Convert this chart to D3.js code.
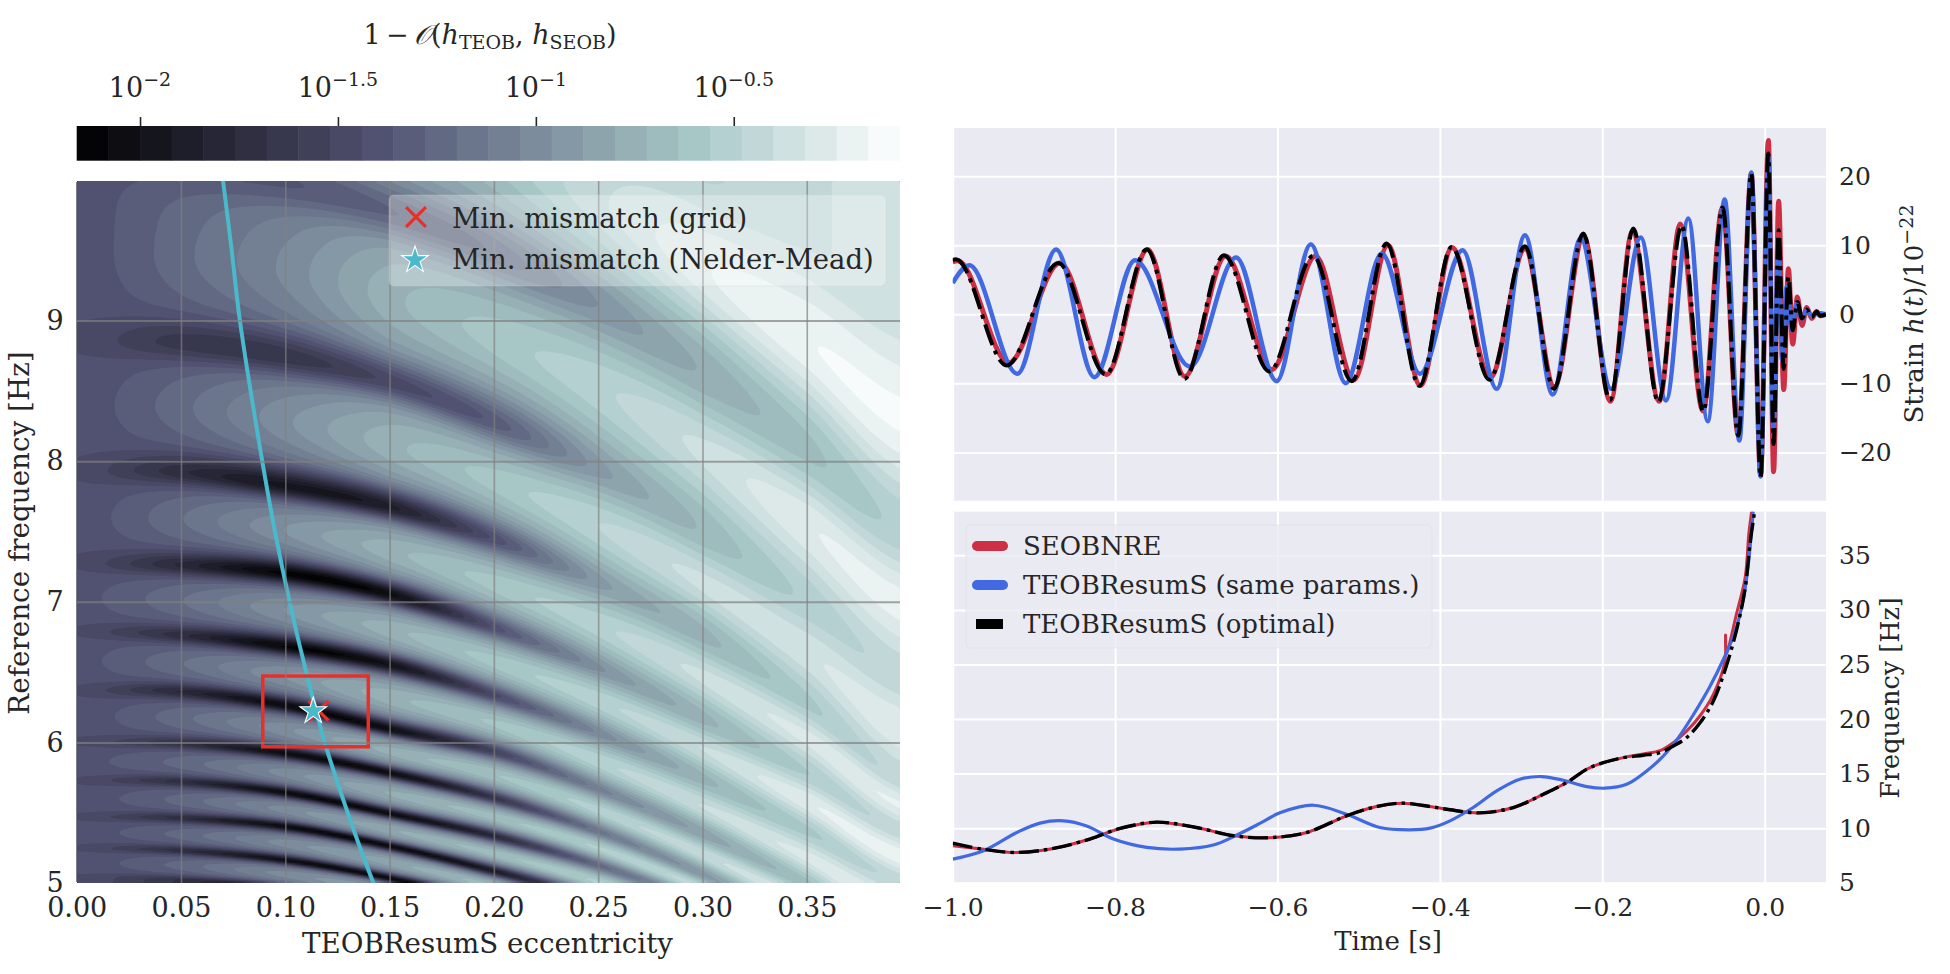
<!DOCTYPE html>
<html>
<head>
<meta charset="utf-8">
<title>Eccentric waveform mismatch</title>
<script src="https://d3js.org/d3.v7.min.js"></script>
<style>
  html, body { margin: 0; padding: 0; background: #fff; }
  svg { display: block; }
  text { font-family: "DejaVu Serif", serif; fill: #262626; }
  .tick text { fill: #262626; }
  .domain { display: none; }
</style>
</head>
<body>
<svg id="drawing_region" width="1950" height="974"></svg>
<script>
// ---- left panel: mismatch surface ----
const eccColumns = [0, 0.0503, 0.1006, 0.1509, 0.2012, 0.2515, 0.3017, 0.352, 0.3973];

// reference frequency of each dark valley at eccColumns, bottom one first
const valleyFreq = [
    [5.04, 5.02, 4.96, 4.85, 4.66, 4.45, 4.20, 3.90, 3.60],
    [5.25, 5.23, 5.16, 5.03, 4.86, 4.65, 4.40, 4.10, 3.80],
    [5.47, 5.46, 5.40, 5.26, 5.08, 4.88, 4.62, 4.30, 4.00],
    [5.73, 5.72, 5.64, 5.49, 5.33, 5.12, 4.85, 4.52, 4.20],
    [6.00, 5.99, 5.92, 5.78, 5.60, 5.36, 5.05, 4.70, 4.35],
    [6.37, 6.36, 6.26, 6.09, 5.93, 5.66, 5.34, 4.98, 4.62],
    [6.79, 6.76, 6.68, 6.55, 6.33, 6.06, 5.73, 5.36, 5.00],
    [7.27, 7.26, 7.20, 7.05, 6.81, 6.52, 6.16, 5.77, 5.36],
    [7.93, 7.92, 7.82, 7.67, 7.44, 7.13, 6.75, 6.26, 5.72],
    [8.86, 8.84, 8.74, 8.56, 8.27, 7.93, 7.49, 6.98, 6.45],
    [10.12, 10.08, 9.98, 9.77, 9.48, 9.10, 8.62, 8.07, 7.50],
    [11.60, 11.60, 11.50, 11.30, 11.00, 10.60, 10.10, 9.60, 9.10]
];

// position on the colour bar (0 = left end, 1 = right end) along each valley
const valleyLevel = [
    [0.34, 0.22, 0.08, 0.06, 0.10, 0.30, 0.45, 0.60, 0.70],
    [0.34, 0.20, 0.05, 0.03, 0.10, 0.30, 0.45, 0.60, 0.70],
    [0.34, 0.20, 0.04, 0.03, 0.12, 0.36, 0.50, 0.60, 0.70],
    [0.34, 0.20, 0.04, 0.04, 0.18, 0.44, 0.56, 0.66, 0.75],
    [0.34, 0.22, 0.05, 0.05, 0.24, 0.48, 0.60, 0.70, 0.78],
    [0.34, 0.18, 0.04, 0.06, 0.30, 0.52, 0.63, 0.72, 0.80],
    [0.34, 0.20, 0.03, 0.08, 0.33, 0.55, 0.68, 0.76, 0.82],
    [0.34, 0.18, 0.02, 0.06, 0.36, 0.57, 0.68, 0.77, 0.82],
    [0.34, 0.20, 0.10, 0.14, 0.36, 0.60, 0.68, 0.76, 0.82],
    [0.34, 0.25, 0.24, 0.32, 0.40, 0.60, 0.70, 0.78, 0.82],
    [0.37, 0.38, 0.38, 0.42, 0.47, 0.58, 0.66, 0.72, 0.78],
    [0.60, 0.60, 0.60, 0.66, 0.72, 0.76, 0.80, 0.84, 0.86]
];

// same, along the light ridge above each valley (last valley has none)
const ridgeLevel = [
    [0.36, 0.44, 0.56, 0.62, 0.70, 0.76, 0.78, 0.82, 0.85],
    [0.36, 0.44, 0.56, 0.64, 0.72, 0.78, 0.82, 0.87, 0.90],
    [0.36, 0.44, 0.56, 0.65, 0.72, 0.78, 0.82, 0.87, 0.90],
    [0.37, 0.44, 0.56, 0.66, 0.72, 0.78, 0.83, 0.88, 0.90],
    [0.36, 0.45, 0.57, 0.67, 0.73, 0.79, 0.84, 0.89, 0.92],
    [0.37, 0.46, 0.58, 0.68, 0.74, 0.80, 0.85, 0.90, 0.93],
    [0.37, 0.46, 0.58, 0.68, 0.75, 0.80, 0.85, 0.92, 0.95],
    [0.36, 0.46, 0.58, 0.68, 0.75, 0.80, 0.86, 0.90, 0.93],
    [0.36, 0.45, 0.57, 0.68, 0.75, 0.81, 0.86, 0.88, 0.92],
    [0.36, 0.45, 0.55, 0.68, 0.75, 0.80, 0.86, 0.92, 0.94],
    [0.40, 0.42, 0.58, 0.66, 0.75, 0.84, 0.92, 0.96, 0.97]
];

const curveEcc = [0.0701, 0.0741, 0.0782, 0.089, 0.0951, 0.1021, 0.11, 0.1189, 0.1276, 0.1349, 0.1425];
const curveFreq = [10, 9.526, 9.004, 7.997, 7.496, 6.998, 6.5, 6.0, 5.6, 5.29, 4.99];

const boxEcc = [0.0892, 0.1398];
const boxFreq = [5.969, 6.472];
const gridMin = [0.116, 6.225];
const neldMeadMin = [0.1134, 6.223];

const eccTicks = [0, 0.05, 0.1, 0.15, 0.2, 0.25, 0.3, 0.35];
const refFreqTicks = [5, 6, 7, 8, 9];
const barExponents = [-2, -1.5, -1, -0.5];
const barExponentLabels = ["\u22122", "\u22121.5", "\u22121", "\u22120.5"];
const bandCount = 26;

// ---- right panels ----
const strainRedT = [-1, -0.994, -0.931, -0.868, -0.8104, -0.76, -0.714, -0.664, -0.607, -0.553, -0.506, -0.464, -0.424, -0.385, -0.338, -0.2952, -0.259, -0.223, -0.19, -0.163, -0.13, -0.104, -0.076, -0.052, -0.0325, -0.0165, -0.005, 0.0045, 0.011, 0.0172, 0.0234, 0.0292, 0.0345, 0.0402, 0.046, 0.0517, 0.058, 0.064, 0.068, 0.0752];
const strainRedH = [7.6, 7.75, -7.0, 7.45, -8.7, 9.39, -9.0, 8.47, -8.0, 8.47, -9.5, 10.0, -10.3, 9.7, -9.2, 9.5, -10.5, 11.3, -12.6, 12.0, -12.6, 13.1, -14.0, 15.5, -17.5, 20.4, -23.4, 25.2, -22.8, 16.4, -10.9, 6.6, -4.3, 2.5, -1.6, 1.0, -0.6, 0.4, -0.2, 0];

const strainBlueT = [-1, -0.9795, -0.9204, -0.8727, -0.8255, -0.7755, -0.7077, -0.651, -0.601, -0.559, -0.516, -0.4717, -0.4245, -0.372, -0.33, -0.2952, -0.2611, -0.2267, -0.1892, -0.1527, -0.1215, -0.094, -0.0702, -0.0493, -0.0312, -0.0165, -0.005, 0.0045, 0.0107, 0.0164, 0.0217, 0.0271, 0.0332, 0.0394, 0.0456, 0.0517, 0.0587, 0.0648, 0.0752];
const strainBlueH = [4.55, 7.11, -8.6, 9.39, -9.1, 7.84, -7.55, 8.22, -9.68, 10.16, -9.97, 8.8, -8.6, 9.29, -10.79, 11.47, -11.61, 10.98, -10.79, 11.13, -12.48, 13.88, -15.48, 16.64, -18.29, 20.56, -23.5, 22.8, -16.8, 8.8, -6.7, 4.0, -2.3, 1.6, -0.6, 0.6, -0.3, 0.2, 0];

const strainBlackT = [-1, -0.996, -0.9335, -0.87, -0.8116, -0.761, -0.7147, -0.666, -0.61, -0.556, -0.5086, -0.4655, -0.4253, -0.3855, -0.3391, -0.2952, -0.2595, -0.2234, -0.1905, -0.1618, -0.131, -0.1023, -0.0756, -0.0518, -0.0325, -0.0165, -0.005, 0.0045, 0.011, 0.0172, 0.0234, 0.0292, 0.0345, 0.0402, 0.046, 0.0517, 0.058, 0.064, 0.068, 0.0752];
const strainBlackH = [7.9, 7.98, -7.4, 7.45, -8.7, 9.39, -9.34, 8.56, -8.27, 8.47, -9.68, 10.26, -10.35, 9.77, -9.48, 9.87, -10.79, 11.71, -12.39, 12.43, -12.72, 12.9, -14.08, 15.48, -17.56, 20.42, -23.6, 23.3, -18.8, 12.2, -7.9, 5.4, -2.3, 1.8, -0.6, 0.7, -0.4, 0.4, -0.2, 0];

const freqBlackT = [-1, -0.964, -0.923, -0.876, -0.831, -0.794, -0.749, -0.7, -0.654, -0.611, -0.564, -0.515, -0.478, -0.447, -0.412, -0.3875, -0.3505, -0.3095, -0.2725, -0.2438, -0.2192, -0.1987, -0.1741, -0.1494, -0.129, -0.1125, -0.096, -0.0796, -0.0632, -0.0488, -0.0345, -0.024, -0.018, -0.012];
const freqBlackF = [8.63, 8.08, 7.77, 8.14, 9.0, 9.97, 10.55, 10.06, 9.3, 9.12, 9.6, 11.13, 11.98, 12.29, 11.98, 11.68, 11.4, 11.89, 13.11, 14.18, 15.4, 16.0, 16.46, 16.68, 16.92, 17.53, 18.3, 19.66, 21.65, 24.5, 28.2, 32, 36.1, 39.2];

const freqRedT = [-1, -0.964, -0.923, -0.876, -0.831, -0.794, -0.749, -0.7, -0.654, -0.611, -0.564, -0.515, -0.478, -0.447, -0.412, -0.3875, -0.3505, -0.3095, -0.2725, -0.2438, -0.2192, -0.1987, -0.1741, -0.1494, -0.129, -0.1125, -0.096, -0.0796, -0.0632, -0.0492, -0.0482, -0.0476, -0.0345, -0.024, -0.0195, -0.0157];
const freqRedF = [8.38, 8.08, 7.77, 8.14, 9.0, 9.97, 10.55, 10.06, 9.3, 9.12, 9.6, 11.13, 11.98, 12.29, 11.98, 11.68, 11.4, 11.89, 13.11, 14.18, 15.4, 16.0, 16.46, 16.8, 17.1, 17.84, 18.9, 20.3, 22.26, 25.2, 27.7, 25.9, 29.7, 33, 37, 39.2];

const freqBlueT = [-1, -0.962, -0.921, -0.8925, -0.8637, -0.835, -0.802, -0.761, -0.72, -0.679, -0.652, -0.62, -0.597, -0.556, -0.515, -0.474, -0.437, -0.412, -0.3875, -0.359, -0.33, -0.3015, -0.275, -0.2481, -0.2192, -0.1967, -0.17, -0.1453, -0.125, -0.1063, -0.0878, -0.0673, -0.0488, -0.0365, -0.0263, -0.02, -0.014];
const freqBlueF = [7.16, 7.93, 9.6, 10.46, 10.67, 10.2, 9.0, 8.23, 8.08, 8.45, 9.3, 10.5, 11.4, 12.1, 11.28, 10.06, 9.85, 10.0, 10.67, 11.89, 13.41, 14.48, 14.73, 14.39, 13.81, 13.66, 14.02, 15.24, 16.6, 18.3, 20.4, 23, 25.8, 28, 31, 34.3, 39.2];

const timeTicks = [-1, -0.8, -0.6, -0.4, -0.2, 0];
const strainTicks = [-20, -10, 0, 10, 20];
const freqTicks = [5, 10, 15, 20, 25, 30, 35];

const legendLabels = ["SEOBNRE", "TEOBResumS (same params.)", "TEOBResumS (optimal)"];

const RED = "#cd2f45", BLUE = "#4169e1", CYAN = "#4ab9cc", BOX_RED = "#e8302a";

const svg = d3.select("#drawing_region");

// matplotlib "bone"
const bone = d3.scaleLinear()
    .domain([0, 0.365, 0.746, 1])
    .range(["#000000", "#515171", "#a6c6c6", "#ffffff"]);

const leftBox = { x0: 76.7, x1: 900, y0: 181, y1: 883 };

// ---- colour bar ----
const expScale = d3.scaleLinear().domain([-2.16, -0.08]).range([leftBox.x0, leftBox.x1]);
const bands = d3.range(bandCount);
const bandW = (leftBox.x1 - leftBox.x0) / bandCount;
const bar = svg.append("g");
bar.selectAll("rect")
    .data(bands)
    .enter()
    .append("rect")
    .attr("x", d => leftBox.x0 + d * bandW)
    .attr("width", d => d == bandCount - 1 ? bandW : bandW + 0.5)
    .attr("y", 126)
    .attr("height", 34.7)
    .attr("fill", d => bone((d + 0.5) / bandCount));

const barAxis = svg.append("g")
    .attr("transform", "translate(0,126)")
    .call(d3.axisTop(expScale).tickValues(barExponents).tickSize(9).tickFormat(""));
barAxis.selectAll("line").attr("stroke", "#262626").attr("stroke-width", 1.6);

barExponents.forEach((e, i) => {
    const t = svg.append("text")
        .attr("x", expScale(e))
        .attr("y", 97)
        .attr("text-anchor", "middle")
        .attr("font-size", 27);
    t.append("tspan").text("10");
    t.append("tspan").attr("dy", -11).attr("font-size", 19).text(barExponentLabels[i]);
});

const barTitle = svg.append("text")
    .attr("x", 490)
    .attr("y", 44)
    .attr("text-anchor", "middle")
    .attr("font-size", 27);
barTitle.append("tspan").text("1\u2009\u2212\u2009");
barTitle.append("tspan").attr("font-style", "italic").text("\u{1D4AA}");
barTitle.append("tspan").text("(");
barTitle.append("tspan").attr("font-style", "italic").text("h");
barTitle.append("tspan").attr("dy", 5).attr("font-size", 19).text("TEOB");
barTitle.append("tspan").attr("dy", -5).text(", ");
barTitle.append("tspan").attr("font-style", "italic").text("h");
barTitle.append("tspan").attr("dy", 5).attr("font-size", 19).text("SEOB");
barTitle.append("tspan").attr("dy", -5).text(")");

// ---- left panel ----
const eccScale = d3.scaleLinear().domain([0, 0.3947]).range([leftBox.x0, leftBox.x1]);
const refScale = d3.scaleLinear().domain([5, 9.993]).range([leftBox.y1, leftBox.y0]);

// Catmull-Rom through one table row, only to get a smooth surface between the read columns
function rowAt(row, e) {
    const n = eccColumns.length;
    let i = d3.bisectRight(eccColumns, e) - 1;
    i = Math.max(0, Math.min(n - 2, i));
    const s = (e - eccColumns[i]) / (eccColumns[i + 1] - eccColumns[i]);
    const p0 = row[Math.max(0, i - 1)], p1 = row[i], p2 = row[i + 1], p3 = row[Math.min(n - 1, i + 2)];
    return 0.5 * (2 * p1 + (p2 - p0) * s + (2 * p0 - 5 * p1 + 4 * p2 - p3) * s * s + (3 * p1 - p0 - 3 * p2 + p3) * s * s * s);
}

const gridW = 331, gridH = 281;
const surface = new Float64Array(gridW * gridH);
for (let i = 0; i < gridW; i++) {
    const e = (i + 0.5) / gridW * eccScale.domain()[1];
    const fs = valleyFreq.map(r => rowAt(r, e));
    const vs = valleyLevel.map(r => rowAt(r, e));
    const rs = ridgeLevel.map(r => rowAt(r, e));
    // valleys are narrow at low eccentricity and broad, soft stripes at high eccentricity
    const sharp = 0.7 * Math.max(0, Math.min(1, (0.3 - e) / 0.15));
    for (let j = 0; j < gridH; j++) {
        const f = 5 + (j + 0.5) / gridH * (refScale.domain()[1] - 5);
        let k = d3.bisectRight(fs, f) - 1;
        k = Math.max(0, Math.min(fs.length - 2, k));
        const u = (f - fs[k]) / (fs[k + 1] - fs[k]);
        const side = u < 0.5 ? 2 * u : 2 * (1 - u);
        const valley = u < 0.5 ? vs[k] : vs[k + 1];
        const c = Math.cos(Math.max(0, Math.min(1, side)) * Math.PI / 2);
        const dip = (1 - sharp) * c * c + sharp * Math.pow(c, 10);
        surface[i + j * gridW] = rs[k] + (valley - rs[k]) * dip;
    }
}

const thresholds = bands.map(d => d / bandCount);
const contours = d3.contours().size([gridW, gridH]).thresholds(thresholds)(surface);
const gridToPx = d3.geoTransform({
    point: function (x, y) {
        this.stream.point(
            eccScale(x / gridW * eccScale.domain()[1]),
            refScale(5 + y / gridH * (refScale.domain()[1] - 5))
        );
    }
});
svg.append("defs").append("clipPath").attr("id", "leftClip").append("rect")
    .attr("x", leftBox.x0).attr("y", leftBox.y0)
    .attr("width", leftBox.x1 - leftBox.x0).attr("height", leftBox.y1 - leftBox.y0);

const left = svg.append("g").attr("clip-path", "url(#leftClip)");
left.selectAll("path.band")
    .data(contours)
    .enter()
    .append("path")
    .attr("class", "band")
    .attr("d", d3.geoPath(gridToPx))
    .attr("fill", (d, i) => bone((i + 0.5) / bandCount));

// grid lies on top of the filled contours
const leftGridX = svg.append("g")
    .attr("transform", `translate(0,${leftBox.y1})`)
    .call(d3.axisBottom(eccScale).tickValues(eccTicks.slice(1)).tickSize(-(leftBox.y1 - leftBox.y0)).tickFormat(""));
leftGridX.selectAll("line").attr("stroke", "rgba(128,128,128,0.7)").attr("stroke-width", 1.6);
const leftGridY = svg.append("g")
    .attr("transform", `translate(${leftBox.x0},0)`)
    .call(d3.axisLeft(refScale).tickValues(refFreqTicks.slice(1)).tickSize(-(leftBox.x1 - leftBox.x0)).tickFormat(""));
leftGridY.selectAll("line").attr("stroke", "rgba(128,128,128,0.7)").attr("stroke-width", 2);

const leftXAxis = svg.append("g")
    .attr("transform", `translate(0,${leftBox.y1})`)
    .call(d3.axisBottom(eccScale).tickValues(eccTicks).tickSize(0).tickPadding(15).tickFormat(d3.format(".2f")));
leftXAxis.selectAll("text").attr("font-size", 27);
const leftYAxis = svg.append("g")
    .attr("transform", `translate(${leftBox.x0},0)`)
    .call(d3.axisLeft(refScale).tickValues(refFreqTicks).tickSize(0).tickPadding(13).tickFormat(d3.format("d")));
leftYAxis.selectAll("text").attr("font-size", 27);

svg.append("text")
    .attr("x", 487.5).attr("y", 953)
    .attr("text-anchor", "middle")
    .attr("font-size", 27.7)
    .text("TEOBResumS eccentricity");
svg.append("text")
    .attr("transform", "translate(29,533) rotate(-90)")
    .attr("text-anchor", "middle")
    .attr("font-size", 27.8)
    .text("Reference frequency [Hz]");

const freqLine = d3.line().x(d => eccScale(d[0])).y(d => refScale(d[1])).curve(d3.curveCatmullRom);
left.append("path")
    .attr("d", freqLine(curveEcc.map((e, i) => [e, curveFreq[i]])))
    .attr("fill", "none")
    .attr("stroke", CYAN)
    .attr("stroke-width", 4);

left.append("rect")
    .attr("x", eccScale(boxEcc[0]))
    .attr("y", refScale(boxFreq[1]))
    .attr("width", eccScale(boxEcc[1]) - eccScale(boxEcc[0]))
    .attr("height", refScale(boxFreq[0]) - refScale(boxFreq[1]))
    .attr("fill", "none")
    .attr("stroke", BOX_RED)
    .attr("stroke-width", 3.5);

function drawCross(parent, x, y) {
    parent.append("path")
        .attr("transform", `translate(${x},${y}) rotate(45)`)
        .attr("d", `M-14,0H14M0,-14V14`)
        .attr("stroke", BOX_RED)
        .attr("stroke-width", 3.2)
        .attr("fill", "none");
}
function drawStar(parent, x, y) {
    parent.append("path")
        .attr("transform", `translate(${x},${y})`)
        .attr("d", d3.symbol(d3.symbolStar, 220)())
        .attr("fill", CYAN)
        .attr("stroke", "#ffffff")
        .attr("stroke-width", 1.1);
}
drawCross(left, eccScale(gridMin[0]), refScale(gridMin[1]));
drawStar(left, eccScale(neldMeadMin[0]), refScale(neldMeadMin[1]));

// left legend
svg.append("rect")
    .attr("x", 389).attr("y", 195).attr("width", 497).attr("height", 91).attr("rx", 5)
    .attr("fill", "#ffffff").attr("fill-opacity", 0.3)
    .attr("stroke", "#cccccc").attr("stroke-opacity", 0.3);
drawCross(svg, 416, 217);
drawStar(svg, 415, 260);
svg.append("text").attr("x", 452).attr("y", 228).attr("font-size", 27.5).text("Min. mismatch (grid)");
svg.append("text").attr("x", 452).attr("y", 269).attr("font-size", 27.5).text("Min. mismatch (Nelder-Mead)");

// ---- right panels ----
const topBox = { x0: 952.7, x1: 1826, y0: 128, y1: 500.7 };
const botBox = { x0: 952.7, x1: 1826, y0: 511.7, y1: 882.7 };
const timeScale = d3.scaleLinear().domain([-1, 0.0755]).range([topBox.x0, topBox.x1]);
const strainScale = d3.scaleLinear().domain([-27, 27]).range([topBox.y1, topBox.y0]);
const freqScale = d3.scaleLinear().domain([5, 39]).range([botBox.y1, botBox.y0]);

function panel(box, yscale, yticks, id) {
    const w = box.x1 - box.x0, h = box.y1 - box.y0;
    svg.append("rect").attr("x", box.x0).attr("y", box.y0).attr("width", w).attr("height", h).attr("fill", "#eaeaf2");
    svg.select("defs").append("clipPath").attr("id", id).append("rect")
        .attr("x", box.x0).attr("y", box.y0).attr("width", w).attr("height", h);
    const gx = svg.append("g").attr("transform", `translate(0,${box.y1})`)
        .call(d3.axisBottom(timeScale).tickValues(timeTicks).tickSize(-h).tickFormat(""));
    gx.selectAll("line").attr("stroke", "#ffffff").attr("stroke-width", 2);
    const gy = svg.append("g").attr("transform", `translate(${box.x0},0)`)
        .call(d3.axisLeft(yscale).tickValues(yticks).tickSize(-w).tickFormat(""));
    gy.selectAll("line").attr("stroke", "#ffffff").attr("stroke-width", 2);
    const labels = svg.append("g").attr("transform", `translate(${box.x1},0)`)
        .call(d3.axisRight(yscale).tickValues(yticks).tickSize(0).tickPadding(13));
    labels.selectAll("text").attr("font-size", 25);
}
panel(topBox, strainScale, strainTicks, "topClip");
panel(botBox, freqScale, freqTicks, "botClip");

const timeAxis = svg.append("g")
    .attr("transform", `translate(0,${botBox.y1})`)
    .call(d3.axisBottom(timeScale).tickValues(timeTicks).tickSize(0).tickPadding(16).tickFormat(d3.format(".1f")));
timeAxis.selectAll("text").attr("font-size", 25);

const strainLine = d3.line().x(d => timeScale(d[0])).y(d => strainScale(d[1])).curve(d3.curveMonotoneX);
const freqCurve = d3.line().x(d => timeScale(d[0])).y(d => freqScale(d[1])).curve(d3.curveCatmullRom);
const zip = (a, b) => a.map((v, i) => [v, b[i]]);

const topLines = svg.append("g").attr("clip-path", "url(#topClip)");
[
    [strainRedT, strainRedH, RED, 5, null],
    [strainBlueT, strainBlueH, BLUE, 4.5, null],
    [strainBlackT, strainBlackH, "#000000", 4, "22,6,4,6"]
].forEach(s => {
    topLines.append("path")
        .attr("d", strainLine(zip(s[0], s[1])))
        .attr("fill", "none")
        .attr("stroke", s[2])
        .attr("stroke-width", s[3])
        .attr("stroke-dasharray", s[4]);
});

const botLines = svg.append("g").attr("clip-path", "url(#botClip)");
[
    [freqRedT, freqRedF, RED, 3, null],
    [freqBlueT, freqBlueF, BLUE, 3.2, null],
    [freqBlackT, freqBlackF, "#000000", 3.4, "20,5,3.5,5"]
].forEach(s => {
    botLines.append("path")
        .attr("d", freqCurve(zip(s[0], s[1])))
        .attr("fill", "none")
        .attr("stroke", s[2])
        .attr("stroke-width", s[3])
        .attr("stroke-dasharray", s[4]);
});

svg.append("text").attr("x", 1388).attr("y", 950).attr("text-anchor", "middle").attr("font-size", 26).text("Time [s]");
svg.append("text")
    .attr("transform", "translate(1899,698) rotate(-90)")
    .attr("text-anchor", "middle")
    .attr("font-size", 25.5)
    .text("Frequency [Hz]");
const strainTitle = svg.append("text")
    .attr("transform", "translate(1923,314) rotate(-90)")
    .attr("text-anchor", "middle")
    .attr("font-size", 26);
strainTitle.append("tspan").text("Strain ");
strainTitle.append("tspan").attr("font-style", "italic").text("h");
strainTitle.append("tspan").text("(");
strainTitle.append("tspan").attr("font-style", "italic").text("t");
strainTitle.append("tspan").text(")/10");
strainTitle.append("tspan").attr("dy", -10).attr("font-size", 19).text("\u221222");

// right legend
svg.append("rect")
    .attr("x", 966).attr("y", 525).attr("width", 466).attr("height", 123).attr("rx", 5)
    .attr("fill", "#eaeaf2").attr("fill-opacity", 0.8)
    .attr("stroke", "#cccccc").attr("stroke-opacity", 0.3);
const legendColors = [RED, BLUE, "#000000"];
legendLabels.forEach((name, i) => {
    const y = 546 + i * 39;
    svg.append("line")
        .attr("x1", i == 2 ? 976 : 977).attr("x2", 1003)
        .attr("y1", y).attr("y2", y)
        .attr("stroke", legendColors[i])
        .attr("stroke-width", 10)
        .attr("stroke-linecap", i == 2 ? "butt" : "round");
    svg.append("text").attr("x", 1023).attr("y", y + 9).attr("font-size", 26).text(name);
});
</script>
</body>
</html>
